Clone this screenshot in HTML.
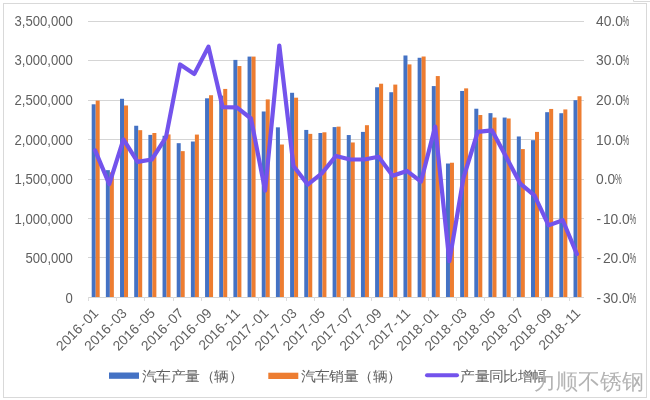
<!DOCTYPE html>
<html><head><meta charset="utf-8"><style>
html,body{margin:0;padding:0;background:#fff;width:650px;height:400px;overflow:hidden}
svg{display:block;will-change:transform}
.ax{font-family:"Liberation Sans",sans-serif;font-size:13.8px;fill:#5f5f5f}
.xl{font-family:"Liberation Sans",sans-serif;font-size:13.8px;fill:#5f5f5f}
.lg{font-family:"Liberation Sans",sans-serif;font-size:14px;fill:#5f5f5f}
.wm{font-family:"Liberation Sans",sans-serif;font-size:21.5px;fill:#b4b4b4}
</style></head><body>
<svg width="650" height="400" viewBox="0 0 650 400">
<rect x="0" y="0" width="650" height="400" fill="#fff"/>
<rect x="3.5" y="3.5" width="643" height="394" fill="none" stroke="#d9d9d9" stroke-width="1"/>
<path d="M633.5 0 V1.5 H650" fill="none" stroke="#d9d9d9" stroke-width="1"/>
<line x1="88.0" y1="21.50" x2="584.0" y2="21.50" stroke="#d5d5d5" stroke-width="1"/>
<line x1="88.0" y1="60.50" x2="584.0" y2="60.50" stroke="#d5d5d5" stroke-width="1"/>
<line x1="88.0" y1="100.50" x2="584.0" y2="100.50" stroke="#d5d5d5" stroke-width="1"/>
<line x1="88.0" y1="139.50" x2="584.0" y2="139.50" stroke="#d5d5d5" stroke-width="1"/>
<line x1="88.0" y1="179.50" x2="584.0" y2="179.50" stroke="#d5d5d5" stroke-width="1"/>
<line x1="88.0" y1="218.50" x2="584.0" y2="218.50" stroke="#d5d5d5" stroke-width="1"/>
<line x1="88.0" y1="257.50" x2="584.0" y2="257.50" stroke="#d5d5d5" stroke-width="1"/>
<line x1="88.0" y1="297.50" x2="584.0" y2="297.50" stroke="#d5d5d5" stroke-width="1"/>
<line x1="88.50" y1="297.0" x2="88.50" y2="301.0" stroke="#dcdcdc" stroke-width="1"/>
<line x1="116.50" y1="297.0" x2="116.50" y2="301.0" stroke="#dcdcdc" stroke-width="1"/>
<line x1="144.50" y1="297.0" x2="144.50" y2="301.0" stroke="#dcdcdc" stroke-width="1"/>
<line x1="173.50" y1="297.0" x2="173.50" y2="301.0" stroke="#dcdcdc" stroke-width="1"/>
<line x1="201.50" y1="297.0" x2="201.50" y2="301.0" stroke="#dcdcdc" stroke-width="1"/>
<line x1="229.50" y1="297.0" x2="229.50" y2="301.0" stroke="#dcdcdc" stroke-width="1"/>
<line x1="258.50" y1="297.0" x2="258.50" y2="301.0" stroke="#dcdcdc" stroke-width="1"/>
<line x1="286.50" y1="297.0" x2="286.50" y2="301.0" stroke="#dcdcdc" stroke-width="1"/>
<line x1="314.50" y1="297.0" x2="314.50" y2="301.0" stroke="#dcdcdc" stroke-width="1"/>
<line x1="343.50" y1="297.0" x2="343.50" y2="301.0" stroke="#dcdcdc" stroke-width="1"/>
<line x1="371.50" y1="297.0" x2="371.50" y2="301.0" stroke="#dcdcdc" stroke-width="1"/>
<line x1="399.50" y1="297.0" x2="399.50" y2="301.0" stroke="#dcdcdc" stroke-width="1"/>
<line x1="428.50" y1="297.0" x2="428.50" y2="301.0" stroke="#dcdcdc" stroke-width="1"/>
<line x1="456.50" y1="297.0" x2="456.50" y2="301.0" stroke="#dcdcdc" stroke-width="1"/>
<line x1="484.50" y1="297.0" x2="484.50" y2="301.0" stroke="#dcdcdc" stroke-width="1"/>
<line x1="513.50" y1="297.0" x2="513.50" y2="301.0" stroke="#dcdcdc" stroke-width="1"/>
<line x1="541.50" y1="297.0" x2="541.50" y2="301.0" stroke="#dcdcdc" stroke-width="1"/>
<line x1="569.50" y1="297.0" x2="569.50" y2="301.0" stroke="#dcdcdc" stroke-width="1"/>
<rect x="91.69" y="104.30" width="4.0" height="192.70" fill="#4472c4"/>
<rect x="95.69" y="100.59" width="4.0" height="196.41" fill="#ed7d31"/>
<rect x="105.86" y="170.15" width="4.0" height="126.85" fill="#4472c4"/>
<rect x="109.86" y="172.35" width="4.0" height="124.65" fill="#ed7d31"/>
<rect x="120.03" y="98.78" width="4.0" height="198.22" fill="#4472c4"/>
<rect x="124.03" y="105.48" width="4.0" height="191.52" fill="#ed7d31"/>
<rect x="134.20" y="125.75" width="4.0" height="171.25" fill="#4472c4"/>
<rect x="138.20" y="130.17" width="4.0" height="166.83" fill="#ed7d31"/>
<rect x="148.37" y="134.90" width="4.0" height="162.10" fill="#4472c4"/>
<rect x="152.37" y="133.00" width="4.0" height="164.00" fill="#ed7d31"/>
<rect x="162.54" y="135.76" width="4.0" height="161.24" fill="#4472c4"/>
<rect x="166.54" y="134.42" width="4.0" height="162.58" fill="#ed7d31"/>
<rect x="176.71" y="143.18" width="4.0" height="153.82" fill="#4472c4"/>
<rect x="180.71" y="151.14" width="4.0" height="145.86" fill="#ed7d31"/>
<rect x="190.89" y="141.52" width="4.0" height="155.48" fill="#4472c4"/>
<rect x="194.89" y="134.58" width="4.0" height="162.42" fill="#ed7d31"/>
<rect x="205.06" y="98.31" width="4.0" height="198.69" fill="#4472c4"/>
<rect x="209.06" y="95.23" width="4.0" height="201.77" fill="#ed7d31"/>
<rect x="219.23" y="95.63" width="4.0" height="201.37" fill="#4472c4"/>
<rect x="223.23" y="88.92" width="4.0" height="208.08" fill="#ed7d31"/>
<rect x="233.40" y="59.90" width="4.0" height="237.10" fill="#4472c4"/>
<rect x="237.40" y="66.05" width="4.0" height="230.95" fill="#ed7d31"/>
<rect x="247.57" y="56.59" width="4.0" height="240.41" fill="#4472c4"/>
<rect x="251.57" y="56.59" width="4.0" height="240.41" fill="#ed7d31"/>
<rect x="261.74" y="111.48" width="4.0" height="185.52" fill="#4472c4"/>
<rect x="265.74" y="99.41" width="4.0" height="197.59" fill="#ed7d31"/>
<rect x="275.91" y="127.33" width="4.0" height="169.67" fill="#4472c4"/>
<rect x="279.91" y="144.52" width="4.0" height="152.48" fill="#ed7d31"/>
<rect x="290.09" y="92.79" width="4.0" height="204.21" fill="#4472c4"/>
<rect x="294.09" y="97.68" width="4.0" height="199.32" fill="#ed7d31"/>
<rect x="304.26" y="129.93" width="4.0" height="167.07" fill="#4472c4"/>
<rect x="308.26" y="133.87" width="4.0" height="163.13" fill="#ed7d31"/>
<rect x="318.43" y="133.00" width="4.0" height="164.00" fill="#4472c4"/>
<rect x="322.43" y="132.29" width="4.0" height="164.71" fill="#ed7d31"/>
<rect x="332.60" y="127.09" width="4.0" height="169.91" fill="#4472c4"/>
<rect x="336.60" y="126.62" width="4.0" height="170.38" fill="#ed7d31"/>
<rect x="346.77" y="135.05" width="4.0" height="161.95" fill="#4472c4"/>
<rect x="350.77" y="142.47" width="4.0" height="154.53" fill="#ed7d31"/>
<rect x="360.94" y="131.90" width="4.0" height="165.10" fill="#4472c4"/>
<rect x="364.94" y="125.20" width="4.0" height="171.80" fill="#ed7d31"/>
<rect x="375.11" y="87.27" width="4.0" height="209.73" fill="#4472c4"/>
<rect x="379.11" y="83.72" width="4.0" height="213.28" fill="#ed7d31"/>
<rect x="389.29" y="92.23" width="4.0" height="204.77" fill="#4472c4"/>
<rect x="393.29" y="84.59" width="4.0" height="212.41" fill="#ed7d31"/>
<rect x="403.46" y="55.49" width="4.0" height="241.51" fill="#4472c4"/>
<rect x="407.46" y="64.40" width="4.0" height="232.60" fill="#ed7d31"/>
<rect x="417.63" y="57.77" width="4.0" height="239.23" fill="#4472c4"/>
<rect x="421.63" y="56.51" width="4.0" height="240.49" fill="#ed7d31"/>
<rect x="431.80" y="86.08" width="4.0" height="210.92" fill="#4472c4"/>
<rect x="435.80" y="76.07" width="4.0" height="220.93" fill="#ed7d31"/>
<rect x="445.97" y="163.52" width="4.0" height="133.48" fill="#4472c4"/>
<rect x="449.97" y="162.73" width="4.0" height="134.27" fill="#ed7d31"/>
<rect x="460.14" y="90.97" width="4.0" height="206.03" fill="#4472c4"/>
<rect x="464.14" y="88.37" width="4.0" height="208.63" fill="#ed7d31"/>
<rect x="474.31" y="108.72" width="4.0" height="188.28" fill="#4472c4"/>
<rect x="478.31" y="115.02" width="4.0" height="181.98" fill="#ed7d31"/>
<rect x="488.49" y="113.13" width="4.0" height="183.87" fill="#4472c4"/>
<rect x="492.49" y="117.55" width="4.0" height="179.45" fill="#ed7d31"/>
<rect x="502.66" y="117.55" width="4.0" height="179.45" fill="#4472c4"/>
<rect x="506.66" y="118.49" width="4.0" height="178.51" fill="#ed7d31"/>
<rect x="516.83" y="136.47" width="4.0" height="160.53" fill="#4472c4"/>
<rect x="520.83" y="149.09" width="4.0" height="147.91" fill="#ed7d31"/>
<rect x="531.00" y="140.18" width="4.0" height="156.82" fill="#4472c4"/>
<rect x="535.00" y="131.90" width="4.0" height="165.10" fill="#ed7d31"/>
<rect x="545.17" y="112.19" width="4.0" height="184.81" fill="#4472c4"/>
<rect x="549.17" y="108.95" width="4.0" height="188.05" fill="#ed7d31"/>
<rect x="559.34" y="113.21" width="4.0" height="183.79" fill="#4472c4"/>
<rect x="563.34" y="109.43" width="4.0" height="187.57" fill="#ed7d31"/>
<rect x="573.51" y="100.20" width="4.0" height="196.80" fill="#4472c4"/>
<rect x="577.51" y="96.26" width="4.0" height="200.74" fill="#ed7d31"/>
<polyline points="95.09,150.43 109.26,184.14 123.43,139.39 137.60,161.87 151.77,159.50 165.94,137.42 180.11,64.48 194.29,73.94 208.46,46.73 222.63,107.26 236.80,107.45 250.97,118.49 265.14,190.65 279.31,45.55 293.49,166.01 307.66,184.54 321.83,173.30 336.00,155.95 350.17,159.50 364.34,159.50 378.51,156.74 392.69,175.67 406.86,170.93 421.03,181.58 435.20,126.58 449.37,261.23 463.54,177.64 477.71,131.90 491.89,130.32 506.06,156.74 520.23,183.55 534.40,195.38 548.57,225.35 562.74,220.22 576.91,254.13" fill="none" stroke="#7353ec" stroke-width="4.2" stroke-linejoin="round" stroke-linecap="round"/>
<text x="72.9" y="25.90" text-anchor="end" textLength="58.31" lengthAdjust="spacingAndGlyphs" class="ax">3,500,000</text>
<text x="72.9" y="65.47" text-anchor="end" textLength="58.31" lengthAdjust="spacingAndGlyphs" class="ax">3,000,000</text>
<text x="72.9" y="105.05" text-anchor="end" textLength="58.31" lengthAdjust="spacingAndGlyphs" class="ax">2,500,000</text>
<text x="72.9" y="144.62" text-anchor="end" textLength="58.31" lengthAdjust="spacingAndGlyphs" class="ax">2,000,000</text>
<text x="72.9" y="184.20" text-anchor="end" textLength="58.31" lengthAdjust="spacingAndGlyphs" class="ax">1,500,000</text>
<text x="72.9" y="223.78" text-anchor="end" textLength="58.31" lengthAdjust="spacingAndGlyphs" class="ax">1,000,000</text>
<text x="72.9" y="263.35" text-anchor="end" textLength="47.38" lengthAdjust="spacingAndGlyphs" class="ax">500,000</text>
<text x="72.9" y="302.93" text-anchor="end" textLength="7.29" lengthAdjust="spacingAndGlyphs" class="ax">0</text>
<text x="596.0" y="25.90" class="ax">40.0</text>
<text transform="translate(622.55,25.90) scale(0.55,1)" class="ax">%</text>
<text x="596.0" y="65.47" class="ax">30.0</text>
<text transform="translate(622.55,65.47) scale(0.55,1)" class="ax">%</text>
<text x="596.0" y="105.05" class="ax">20.0</text>
<text transform="translate(622.55,105.05) scale(0.55,1)" class="ax">%</text>
<text x="596.0" y="144.62" class="ax">10.0</text>
<text transform="translate(622.55,144.62) scale(0.55,1)" class="ax">%</text>
<text x="596.0" y="184.20" class="ax">0.0</text>
<text transform="translate(614.88,184.20) scale(0.55,1)" class="ax">%</text>
<text x="596.5" y="223.78" class="ax">-<tspan dx="1.8">10.0</tspan></text>
<text transform="translate(629.45,223.78) scale(0.55,1)" class="ax">%</text>
<text x="596.5" y="263.35" class="ax">-<tspan dx="1.8">20.0</tspan></text>
<text transform="translate(629.45,263.35) scale(0.55,1)" class="ax">%</text>
<text x="596.5" y="302.93" class="ax">-<tspan dx="1.8">30.0</tspan></text>
<text transform="translate(629.45,302.93) scale(0.55,1)" class="ax">%</text>
<text transform="translate(99.29,314.0) rotate(-45)" text-anchor="end" class="xl">2016<tspan dx="1.2">-</tspan><tspan dx="1.2">01</tspan></text>
<text transform="translate(127.63,314.0) rotate(-45)" text-anchor="end" class="xl">2016<tspan dx="1.2">-</tspan><tspan dx="1.2">03</tspan></text>
<text transform="translate(155.97,314.0) rotate(-45)" text-anchor="end" class="xl">2016<tspan dx="1.2">-</tspan><tspan dx="1.2">05</tspan></text>
<text transform="translate(184.31,314.0) rotate(-45)" text-anchor="end" class="xl">2016<tspan dx="1.2">-</tspan><tspan dx="1.2">07</tspan></text>
<text transform="translate(212.66,314.0) rotate(-45)" text-anchor="end" class="xl">2016<tspan dx="1.2">-</tspan><tspan dx="1.2">09</tspan></text>
<text transform="translate(241.00,314.0) rotate(-45)" text-anchor="end" class="xl">2016<tspan dx="1.2">-</tspan><tspan dx="1.2">11</tspan></text>
<text transform="translate(269.34,314.0) rotate(-45)" text-anchor="end" class="xl">2017<tspan dx="1.2">-</tspan><tspan dx="1.2">01</tspan></text>
<text transform="translate(297.69,314.0) rotate(-45)" text-anchor="end" class="xl">2017<tspan dx="1.2">-</tspan><tspan dx="1.2">03</tspan></text>
<text transform="translate(326.03,314.0) rotate(-45)" text-anchor="end" class="xl">2017<tspan dx="1.2">-</tspan><tspan dx="1.2">05</tspan></text>
<text transform="translate(354.37,314.0) rotate(-45)" text-anchor="end" class="xl">2017<tspan dx="1.2">-</tspan><tspan dx="1.2">07</tspan></text>
<text transform="translate(382.71,314.0) rotate(-45)" text-anchor="end" class="xl">2017<tspan dx="1.2">-</tspan><tspan dx="1.2">09</tspan></text>
<text transform="translate(411.06,314.0) rotate(-45)" text-anchor="end" class="xl">2017<tspan dx="1.2">-</tspan><tspan dx="1.2">11</tspan></text>
<text transform="translate(439.40,314.0) rotate(-45)" text-anchor="end" class="xl">2018<tspan dx="1.2">-</tspan><tspan dx="1.2">01</tspan></text>
<text transform="translate(467.74,314.0) rotate(-45)" text-anchor="end" class="xl">2018<tspan dx="1.2">-</tspan><tspan dx="1.2">03</tspan></text>
<text transform="translate(496.09,314.0) rotate(-45)" text-anchor="end" class="xl">2018<tspan dx="1.2">-</tspan><tspan dx="1.2">05</tspan></text>
<text transform="translate(524.43,314.0) rotate(-45)" text-anchor="end" class="xl">2018<tspan dx="1.2">-</tspan><tspan dx="1.2">07</tspan></text>
<text transform="translate(552.77,314.0) rotate(-45)" text-anchor="end" class="xl">2018<tspan dx="1.2">-</tspan><tspan dx="1.2">09</tspan></text>
<text transform="translate(581.11,314.0) rotate(-45)" text-anchor="end" class="xl">2018<tspan dx="1.2">-</tspan><tspan dx="1.2">11</tspan></text>
<rect x="109" y="372.5" width="30" height="6.3" fill="#4472c4"/>
<text transform="translate(142.0,380.7) scale(1.065,1)" class="lg">汽车产量（辆）</text>
<rect x="268.3" y="372.7" width="30" height="6.3" fill="#ed7d31"/>
<text transform="translate(300.6,380.7) scale(1.065,1)" class="lg">汽车销量（辆）</text>
<line x1="427" y1="375.2" x2="457" y2="375.2" stroke="#7353ec" stroke-width="4" stroke-linecap="round"/>
<text transform="translate(460.1,380.7) scale(1.065,1)" class="lg">产量同比增幅</text>
<text x="534" y="389" class="wm">力顺不锈钢</text>
</svg>
</body></html>
